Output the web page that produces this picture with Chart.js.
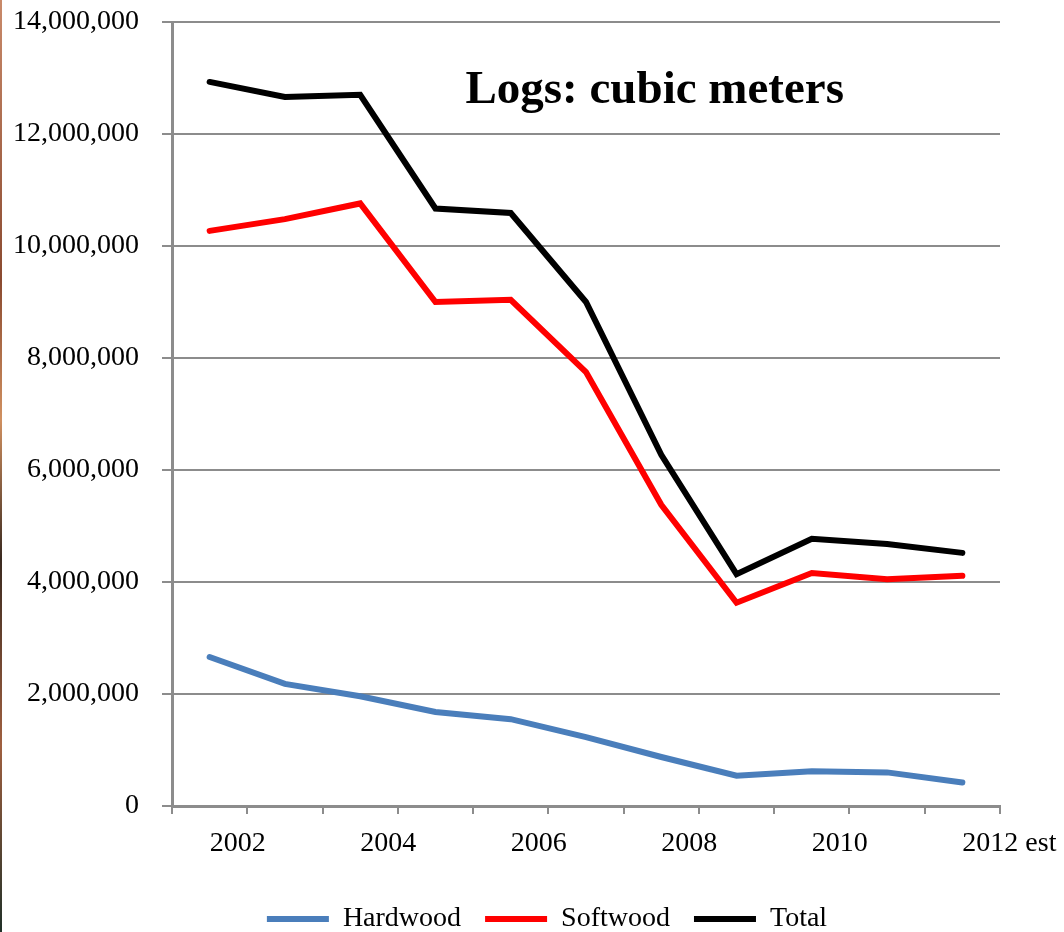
<!DOCTYPE html>
<html>
<head>
<meta charset="utf-8">
<script src="https://cdn.jsdelivr.net/npm/chart.js@4/dist/chart.umd.min.js"></script>
<style>
    html, body { margin: 0; padding: 0; background: #fff; }
    #wrap { position: relative; width: 1064px; height: 932px; }
    #edge { position: absolute; left: 0; top: 0; width: 2px; height: 932px;
            background: linear-gradient(#c98a6a, #8a4a30 30%, #d09060 45%, #3a2a20 60%, #a06040 80%, #203028); }
</style>
</head>
<body>
<div id="wrap">
    <canvas id="graficoLogs"></canvas>
    <div id="edge"></div>
</div>
<script>
const anos = ['2002', '2003', '2004', '2005', '2006', '2007', '2008', '2009', '2010', '2011', '2012 est'];
const hardwood = [2660000, 2180000, 1960000, 1680000, 1550000, 1230000, 875000, 540000, 620000, 600000, 420000];
const softwood = [10270000, 10480000, 10760000, 9000000, 9040000, 7750000, 5380000, 3630000, 4160000, 4050000, 4110000];
const total = [12930000, 12660000, 12700000, 10670000, 10590000, 9000000, 6270000, 4140000, 4770000, 4680000, 4520000];
const yTicks = [0, 2000000, 4000000, 6000000, 8000000, 10000000, 12000000, 14000000];

const fonte = 'Liberation Serif';
const cinza = '#8c8c8c';

// titulo dentro da area do grafico + rotulos do eixo x alinhados a esquerda do ponto
const tituloPlugin = {
    id: 'tituloLogs',
    afterDraw(chart) {
        const { ctx, chartArea } = chart;
        const x = chart.scales.x;
        ctx.save();
        ctx.fillStyle = '#000';
        ctx.textBaseline = 'alphabetic';
        ctx.font = 'bold 47px "' + fonte + '"';
        ctx.textAlign = 'center';
        ctx.fillText('Logs: cubic meters', chartArea.left + chartArea.width * 0.583, chartArea.top + 81);
        ctx.font = '28px "' + fonte + '"';
        ctx.textAlign = 'left';
        anos.forEach((ano, i) => {
            if (i % 2 === 0) ctx.fillText(ano, x.getPixelForTick(i), chartArea.bottom + 45);
        });
        ctx.restore();
    }
};

const serie = (label, data, cor) => ({
    label, data,
    borderColor: cor, backgroundColor: cor,
    borderWidth: 6, pointRadius: 0, tension: 0,
    borderCapStyle: 'round', borderJoinStyle: 'miter'
});

new Chart(document.getElementById('graficoLogs').getContext('2d'), {
    type: 'line',
    data: {
        labels: anos,
        datasets: [
            serie('Hardwood', hardwood, '#4a7ebb'),
            serie('Softwood', softwood, '#ff0000'),
            serie('Total', total, '#000000')
        ]
    },
    options: {
        responsive: true,
        maintainAspectRatio: false,
        animation: false,
        layout: { padding: { left: 0, top: 0, right: -30, bottom: -11 } },
        plugins: {
            legend: {
                position: 'bottom',
                labels: {
                    usePointStyle: true, pointStyle: 'line', pointStyleWidth: 62,
                    color: '#000', padding: 24,
                    font: { family: fonte, size: 28 }
                }
            },
            tooltip: { enabled: false }
        },
        scales: {
            x: {
                offset: true,
                grid: { offset: true, drawOnChartArea: false, color: cinza, lineWidth: 2, tickLength: 8 },
                border: { color: cinza, width: 3 },
                ticks: { autoSkip: false, maxRotation: 0, callback: () => '' },
                afterFit: (s) => { s.height = 75; s.paddingLeft = 0; s.paddingRight = 64; }
            },
            y: {
                min: 0, max: 14000000,
                afterBuildTicks: (s) => { s.ticks = yTicks.map(v => ({ value: v })); },
                grid: { color: cinza, lineWidth: 2, tickLength: 10 },
                border: { color: cinza, width: 3 },
                ticks: {
                    padding: 23, color: '#000', font: { family: fonte, size: 28 },
                    callback: (v) => v.toLocaleString('en-US')
                },
                afterFit: (s) => { s.width = 172; s.paddingTop = 22; s.paddingBottom = 0; }
            }
        }
    },
    plugins: [tituloPlugin]
});
</script>
</body>
</html>
